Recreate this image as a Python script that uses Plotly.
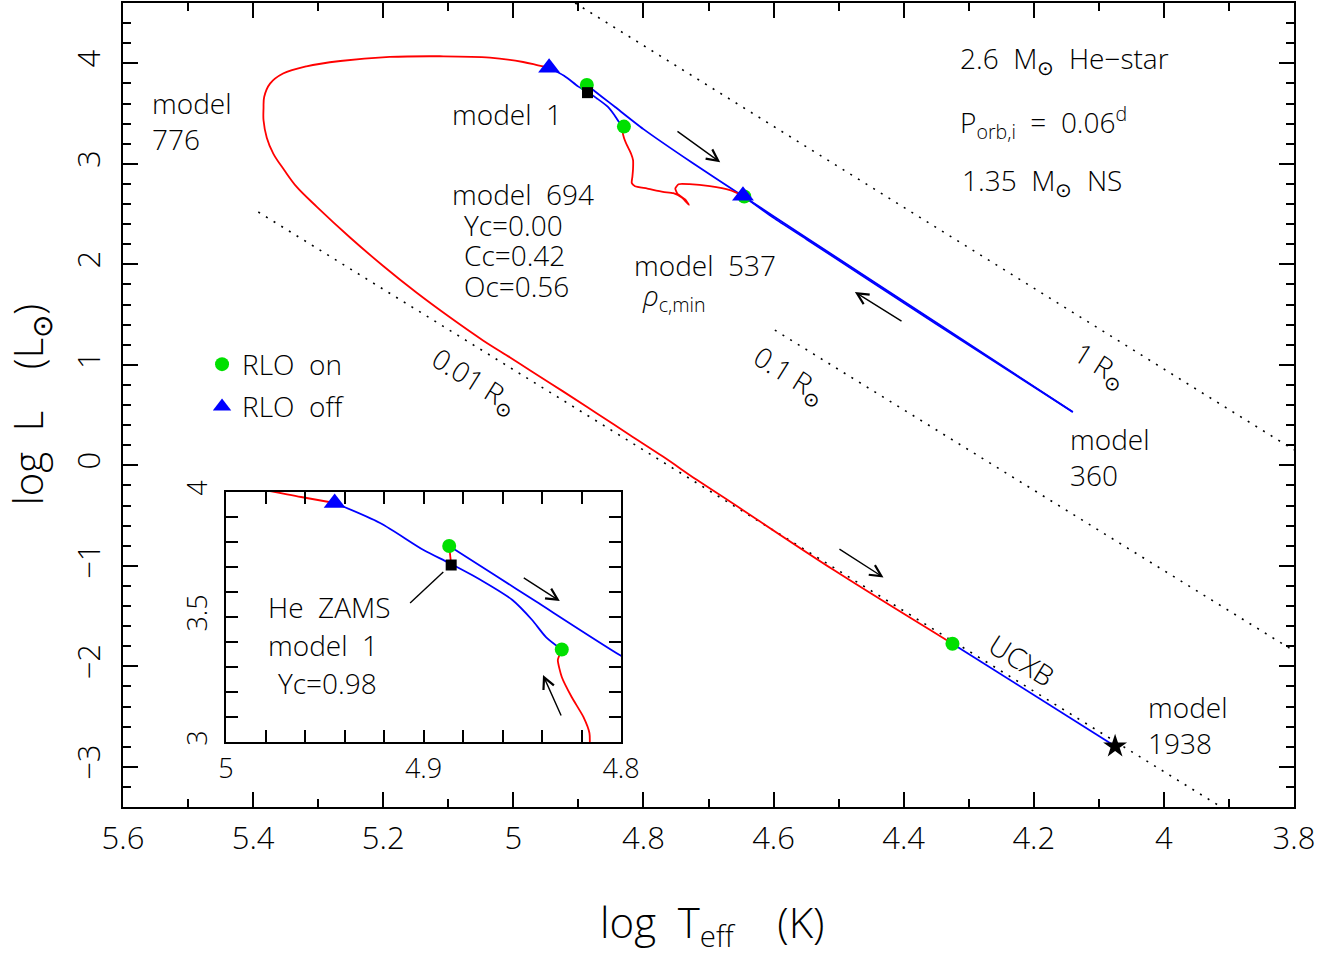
import plotly.graph_objects as go

# evolutionary track of a 2.6 Msun He-star with a 1.35 Msun NS companion
# colours: red = detached, blue = Roche-lobe overflow

# model 1 (He ZAMS) -> first RLO
red1_x = [4.886, 4.887]
red1_y = [3.708, 3.784]

# RLO down to model 360
blue1_x = [4.887, 4.864, 4.843, 4.800, 4.725, 4.648, 4.549, 4.350, 4.140]
blue1_y = [3.784, 3.668, 3.562, 3.345, 3.010, 2.683, 2.262, 1.421, 0.531]

# back up to the end of the first RLO phase
blue2_x = [4.140, 4.350, 4.549, 4.600, 4.645]
blue2_y = [0.531, 1.405, 2.248, 2.462, 2.672]

# detached: wiggle, model 694, up to second RLO
red2_x = [4.647, 4.667, 4.698, 4.729, 4.746, 4.751, 4.748, 4.736, 4.730, 4.741,
          4.754, 4.770, 4.795, 4.813, 4.818, 4.817, 4.816, 4.816, 4.819, 4.825,
          4.830, 4.832, 4.830]
red2_y = [2.683, 2.738, 2.777, 2.797, 2.797, 2.755, 2.705, 2.645, 2.592, 2.665,
          2.708, 2.721, 2.755, 2.777, 2.810, 2.870, 2.950, 3.036, 3.100, 3.180,
          3.260, 3.328, 3.370]

# second RLO phase
blue3_x = [4.830, 4.838, 4.845, 4.855, 4.871, 4.887, 4.900, 4.922, 4.945]
blue3_y = [3.370, 3.420, 3.488, 3.568, 3.648, 3.716, 3.768, 3.876, 3.956]

# detached: loop through model 776 and down to the UCXB phase
red3_x = [4.945, 4.962, 4.985, 5.036, 5.113, 5.190, 5.266, 5.318, 5.354, 5.374,
          5.383, 5.384, 5.384, 5.379, 5.369, 5.352, 5.333, 5.302, 5.251, 5.200,
          5.149, 5.097, 5.046, 5.005, 4.974, 4.923, 4.872, 4.821, 4.770, 4.718,
          4.667, 4.508, 4.325]
red3_y = [3.956, 3.980, 4.013, 4.057, 4.070, 4.063, 4.023, 3.970, 3.898, 3.798,
          3.665, 3.550, 3.433, 3.260, 3.102, 2.936, 2.770, 2.572, 2.267, 1.983,
          1.719, 1.470, 1.240, 1.073, 0.944, 0.733, 0.518, 0.302, 0.087, -0.145,
          -0.361, -1.040, -1.775]

# UCXB
blue4_x = [4.325, 4.075]
blue4_y = [-1.775, -2.796]

rlo_on_x = [4.887, 4.830, 4.645, 4.325]
rlo_on_y = [3.784, 3.370, 2.675, -1.775]
rlo_off_x = [4.945, 4.647]
rlo_off_y = [3.956, 2.683]
models_x = [5.384, 4.818, 4.549, 4.140]   # 776, 694, 537, 360
models_y = [3.550, 2.810, 2.262, 0.531]
zams_x, zams_y = [4.886], [3.708]
final_x, final_y = [4.075], [-2.796]

# constant radius lines (1, 0.1, 0.01 Rsun), end points
rad_x = [[4.905, 3.800], [4.598, 3.800], [5.392, 3.912]]
rad_y = [[4.600, 0.153], [1.345, -1.847], [2.520, -3.400]]

RED = "#ff0000"
BLUE = "#0000ff"
GREEN = "#00e000"
FONT = "Open Sans"
WEIGHT = 300

fig = go.Figure()

for i, (ax_x, ax_y) in enumerate([("x", "y"), ("x2", "y2")]):
    main = i == 0
    if main:
        for rx, ry in zip(rad_x, rad_y):
            fig.add_trace(go.Scatter(x=rx, y=ry, mode="lines", showlegend=False,
                                     line=dict(color="black", width=1.6, dash="2px,7px"),
                                     xaxis=ax_x, yaxis=ax_y))
    for xs, ys, col, sm in [(red1_x, red1_y, RED, 0), (blue1_x, blue1_y, BLUE, 0.6),
                            (blue2_x, blue2_y, BLUE, 0.6), (red2_x, red2_y, RED, 0.5),
                            (blue3_x, blue3_y, BLUE, 0.8), (red3_x, red3_y, RED, 1.0),
                            (blue4_x, blue4_y, BLUE, 0)]:
        fig.add_trace(go.Scatter(x=xs, y=ys, mode="lines", showlegend=False,
                                 line=dict(color=col, width=1.8, shape="spline", smoothing=sm),
                                 xaxis=ax_x, yaxis=ax_y))
    fig.add_trace(go.Scatter(x=rlo_on_x, y=rlo_on_y, mode="markers",
                             name="RLO\u00a0\u00a0on", showlegend=main, legendgroup="on",
                             marker=dict(color=GREEN, size=14, symbol="circle"),
                             xaxis=ax_x, yaxis=ax_y))
    fig.add_trace(go.Scatter(x=rlo_off_x, y=rlo_off_y, mode="markers",
                             name="RLO\u00a0\u00a0off", showlegend=main, legendgroup="off",
                             marker=dict(color=BLUE, size=19, symbol="triangle-up"),
                             xaxis=ax_x, yaxis=ax_y))
    fig.add_trace(go.Scatter(x=models_x, y=models_y, mode="markers", showlegend=False,
                             marker=dict(color="rgba(0,0,0,0)", size=12, symbol="circle-open",
                                         line=dict(color="black", width=1.5)),
                             xaxis=ax_x, yaxis=ax_y))
    fig.add_trace(go.Scatter(x=zams_x, y=zams_y, mode="markers", showlegend=False,
                             marker=dict(color="black", size=11, symbol="square"),
                             xaxis=ax_x, yaxis=ax_y))
    fig.add_trace(go.Scatter(x=final_x, y=final_y, mode="markers", showlegend=False,
                             marker=dict(color="black", size=18, symbol="star"),
                             xaxis=ax_x, yaxis=ax_y))


def font(size):
    return dict(family=FONT, size=size, color="black", weight=WEIGHT)


def note(text, x, y, xref="x", yref="y", size=28, xanchor="left", angle=0):
    fig.add_annotation(text=text, x=x, y=y, xref=xref, yref=yref, showarrow=False,
                       xanchor=xanchor, yanchor="middle", textangle=angle, align="left",
                       font=font(size))


def arrow(x0, y0, x1, y1, xref="x", yref="y"):
    fig.add_annotation(x=x1, y=y1, ax=x0, ay=y0, xref=xref, yref=yref, axref=xref, ayref=yref,
                       text="", showarrow=True, arrowhead=5, arrowsize=1.6, arrowwidth=1.4,
                       arrowcolor="black")


SP = "\u00a0"
note("model<br>776", 5.5585, 3.423)
note("model" + SP * 2 + "1", 5.097, 3.493)
note("model" + SP * 2 + "694", 5.097, 2.698)
note("Yc=0.00", 5.079, 2.390)
note("Cc=0.42", 5.079, 2.091)
note("Oc=0.56", 5.079, 1.783)
note("model" + SP * 2 + "537", 4.8176, 1.992)
note("<i>ρ</i><sub>c,min</sub>", 4.805, 1.675)
note("model<br>360", 4.1475, 0.083)
note("model<br>1938", 4.0276, -2.58)
note("2.6" + SP * 2 + "M<sub>⊙</sub>" + SP * 2 + "He−star", 4.3166, 4.03)
note("P<sub>orb,i</sub>" + SP * 2 + "=" + SP * 2 + "0.06<sup>d</sup>", 4.3166, 3.41)
note("1.35" + SP * 2 + "M<sub>⊙</sub>" + SP * 2 + "NS", 4.313, 2.82)
note("0.01" + SP + "R<sub>⊙</sub>", 5.059, 0.829, xanchor="center", angle=32)
note("0.1" + SP + "R<sub>⊙</sub>", 4.575, 0.889, xanchor="center", angle=32)
note("1" + SP + "R<sub>⊙</sub>", 4.098, 0.988, xanchor="center", angle=32)
note("UCXB", 4.218, -1.934, xanchor="center", angle=32)

note("He" + SP * 2 + "ZAMS", 4.9797, 3.54, "x2", "y2")
note("model" + SP * 2 + "1", 4.9797, 3.388, "x2", "y2")
note("Yc=0.98", 4.9747, 3.236, "x2", "y2")

arrow(4.750, 3.334, 4.682, 3.016)
arrow(4.401, 1.425, 4.475, 1.724)
arrow(4.501, -0.824, 4.431, -1.116)
arrow(4.850, 3.660, 4.831, 3.564, "x2", "y2")
arrow(4.830, 3.100, 4.8395, 3.268, "x2", "y2")
fig.add_shape(type="line", x0=4.9068, y0=3.556, x1=4.890, y1=3.680, xref="x2", yref="y2",
              line=dict(color="black", width=1.4))

# axis titles
note("log" + SP * 2 + "T<sub>eff</sub>" + SP * 4 + "(K)", 0.503, -0.146, "paper", "paper",
     size=42, xanchor="center")
note("log" + SP * 2 + "L" + SP * 4 + "(L<sub>⊙</sub>)", -0.0800, 0.5, "paper", "paper",
     size=40, xanchor="center", angle=-90)

axis_common = dict(showline=True, linecolor="black", linewidth=2, mirror="allticks",
                   ticks="inside", tickcolor="black", tickwidth=1.5, showgrid=False,
                   zeroline=False, automargin=False, tickfont=font(31))
minor_common = dict(ticks="inside", tickcolor="black", tickwidth=1.5)

fig.update_layout(
    width=1319, height=955,
    margin=dict(l=123, r=25, t=3, b=148),
    plot_bgcolor="white", paper_bgcolor="white",
    showlegend=True,
    legend=dict(x=0.0675, y=0.5815, xanchor="left", yanchor="top", bgcolor="rgba(0,0,0,0)",
                font=font(28), tracegroupgap=3, traceorder="grouped"),
    xaxis=dict(range=[5.6, 3.8], domain=[0, 1], dtick=0.2, tick0=0, ticklen=15,
               minor=dict(dtick=0.1, ticklen=8, **minor_common),
               ticklabelstandoff=3, **axis_common),
    yaxis=dict(range=[-3.4, 4.6], domain=[0, 1], dtick=1, tick0=0, ticklen=15, tickangle=-90,
               minor=dict(dtick=0.2, ticklen=8, **minor_common),
               ticklabelstandoff=9, **axis_common),
    xaxis2=dict(range=[5.0, 4.8], domain=[0.088, 0.4253], anchor="y2", dtick=0.1, tick0=0,
                ticklen=12, minor=dict(dtick=0.02, ticklen=12, **minor_common),
                ticklabelstandoff=2, **{**axis_common, "tickfont": font(27)}),
    yaxis2=dict(range=[3.0, 4.0], domain=[0.0808, 0.3918], anchor="x2", dtick=0.5, tick0=0,
                ticklen=12, tickangle=-90, minor=dict(dtick=0.1, ticklen=12, **minor_common),
                ticklabelstandoff=6, **{**axis_common, "tickfont": font(27)}),
)

fig.write_html("out.html", config={"displayModeBar": False},
               post_script="document.body.style.margin='0px';")
